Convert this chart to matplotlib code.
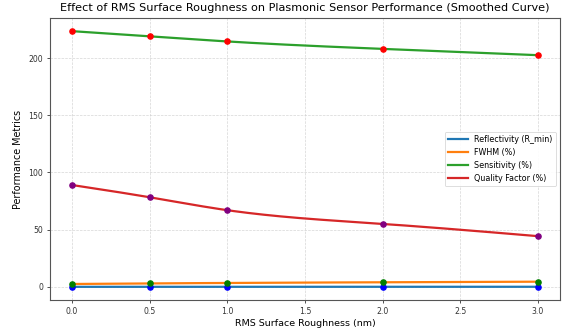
import numpy as np
import matplotlib
matplotlib.use("Agg")
import matplotlib.pyplot as plt

roughness = [0.0, 0.5, 1.0, 2.0, 3.0]
reflectivity = [0.02, 0.03, 0.04, 0.05, 0.06]
fwhm = [2.5, 3.0, 3.4, 4.0, 4.5]
sensitivity = [223.5, 219.0, 214.5, 208.0, 202.5]
quality = [89.0, 78.3, 67.0, 55.0, 44.3]

series_names = ["Reflectivity (R_min)", "FWHM (%)", "Sensitivity (%)", "Quality Factor (%)"]
line_colors = ["#1f77b4", "#ff7f0e", "#2ca02c", "#d62728"]
marker_colors = ["blue", "green", "red", "purple"]


def natural_spline(x, y, xs):
    x = np.asarray(x, float); y = np.asarray(y, float)
    n = len(x)
    h = np.diff(x)
    A = np.zeros((n, n)); b = np.zeros(n)
    A[0, 0] = 1; A[-1, -1] = 1
    for i in range(1, n - 1):
        A[i, i - 1] = h[i - 1]
        A[i, i] = 2 * (h[i - 1] + h[i])
        A[i, i + 1] = h[i]
        b[i] = 3 * ((y[i + 1] - y[i]) / h[i] - (y[i] - y[i - 1]) / h[i - 1])
    c = np.linalg.solve(A, b)
    out = np.empty_like(xs)
    for k, xv in enumerate(xs):
        i = min(max(np.searchsorted(x, xv) - 1, 0), n - 2)
        dx = xv - x[i]
        bi = (y[i + 1] - y[i]) / h[i] - h[i] * (2 * c[i] + c[i + 1]) / 3
        di = (c[i + 1] - c[i]) / (3 * h[i])
        out[k] = y[i] + bi * dx + c[i] * dx ** 2 + di * dx ** 3
    return out


fig = plt.figure(figsize=(5.63, 3.29), dpi=100)
ax = fig.add_axes([50 / 563, 1 - 300 / 329, 510 / 563, 282 / 329])

xs = np.linspace(min(roughness), max(roughness), 300)
for vals, name, lc, mc in zip([reflectivity, fwhm, sensitivity, quality], series_names, line_colors, marker_colors):
    ax.plot(xs, natural_spline(roughness, vals, xs), color=lc, lw=1.6, label=name, zorder=2)
    ax.scatter(roughness, vals, color=mc, s=14, zorder=3)

ax.set_title("Effect of RMS Surface Roughness on Plasmonic Sensor Performance (Smoothed Curve)", fontsize=8.1, pad=5)
ax.set_xlabel("RMS Surface Roughness (nm)", fontsize=6.8, labelpad=2)
ax.set_ylabel("Performance Metrics", fontsize=6.9, labelpad=4)
ax.tick_params(labelsize=5.6, length=2.5, width=0.6, colors="#333333", pad=2.5)
ax.set_xticks([0.0, 0.5, 1.0, 1.5, 2.0, 2.5, 3.0])
ax.set_yticks([0, 50, 100, 150, 200])
ax.set_xlim(-0.142, 3.142)
ax.set_ylim(-11.5, 235)
ax.grid(True, linestyle="--", color="#cccccc", linewidth=0.5, alpha=0.8)
for s in ax.spines.values():
    s.set_color("#555555")
    s.set_linewidth(0.8)
leg = ax.legend(fontsize=5.8, loc="center right", bbox_to_anchor=(1.0, 0.5), handlelength=2.5, framealpha=0.9)
leg.get_frame().set_linewidth(0.5)
fig.savefig("out.png", dpi=100)
